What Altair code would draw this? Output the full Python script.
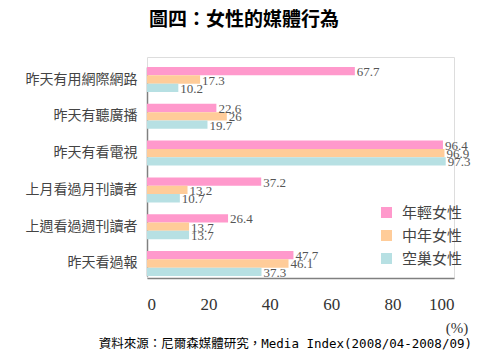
import altair as alt
import pandas as pd

categories = ["昨天有用網際網路", "昨天有聽廣播", "昨天有看電視", "上月看過月刊讀者", "上週看過週刊讀者", "昨天看過報"]
series = ["年輕女性", "中年女性", "空巢女性"]
young = [67.7, 22.6, 96.4, 37.2, 26.4, 47.7]
middle = [17.3, 26, 96.9, 13.2, 13.7, 46.1]
empty_nest = [10.2, 19.7, 97.3, 10.7, 13.7, 37.3]
colors = ["#ff99cc", "#ffcc99", "#b7e0e3"]
x_ticks = [0, 20, 40, 60, 80, 100]

title_text = "圖四：女性的媒體行為"
unit_text = "(%)"
source_text = "資料來源：尼爾森媒體研究，Media Index(2008/04-2008/09)"

rows = []
for s, vals in zip(series, [young, middle, empty_nest]):
    for c, v in zip(categories, vals):
        rows.append({"cat": c, "series": s, "value": v, "label": f"{v:g}"})
df = pd.DataFrame(rows)

W, H = 307, 221

y_enc = alt.Y("cat:N", sort=categories,
              scale=alt.Scale(range=[10, 219], paddingInner=0.32, paddingOuter=0),
              axis=alt.Axis(title=None, ticks=False, labelPadding=10, labelFontSize=14,
                            labelFont="Noto Sans CJK TC", labelColor="#444",
                            domainColor="#808080", domainWidth=1.5))
yoff = alt.YOffset("series:N", sort=series, scale=alt.Scale(paddingInner=0, paddingOuter=0))
x_enc = alt.X("value:Q", scale=alt.Scale(domain=[0, 100], nice=False),
              axis=alt.Axis(title=None, values=x_ticks, grid=False, ticks=False,
                            labelPadding=18, labelFontSize=17, labelFont="Liberation Serif",
                            labelColor="#333", domainColor="#808080", domainWidth=1.5))

bars = alt.Chart(df).mark_bar().encode(
    x=x_enc, y=y_enc, yOffset=yoff,
    color=alt.Color("series:N", sort=series,
                    scale=alt.Scale(domain=series, range=colors),
                    legend=alt.Legend(title=None, orient="none", legendX=232, legendY=148,
                                      symbolType="square", symbolSize=121,
                                      symbolStrokeWidth=0,
                                      labelFontSize=15, labelFont="Noto Sans CJK TC",
                                      labelColor="#444", labelOffset=8, rowPadding=7)),
)

labels = alt.Chart(df).mark_text(align="left", baseline="middle", dx=2, dy=1,
                                 font="Liberation Serif", fontSize=13, color="#555").encode(
    x="value:Q", y=alt.Y("cat:N", sort=categories), yOffset=alt.YOffset("series:N", sort=series),
    text="label:N",
)

ann_df = pd.DataFrame({"t": [title_text]})
title = alt.Chart(ann_df).mark_text(font="Noto Sans CJK TC", fontSize=19, fontWeight="bold",
                                    color="#000", align="center", baseline="middle").encode(
    x=alt.value(97), y=alt.value(-37), text="t:N")

unit = alt.Chart(pd.DataFrame({"t": [unit_text]})).mark_text(
    font="Liberation Serif", fontSize=15, color="#333", align="center", baseline="middle").encode(
    x=alt.value(310), y=alt.value(271), text="t:N")

source = alt.Chart(pd.DataFrame({"t": [source_text]})).mark_text(
    font="DejaVu Sans Mono, Noto Sans CJK TC", fontSize=12.5, color="#000",
    align="right", baseline="middle").encode(
    x=alt.value(325), y=alt.value(287), text="t:N")

chart = alt.layer(bars, labels, title, unit, source).properties(
    width=W, height=H,
    autosize=alt.AutoSizeParams(type="none"),
    padding={"left": 139, "top": 49, "right": 38, "bottom": 78},
).configure_view(stroke=None).configure(background="white")

chart.save("out.html", embed_options={"renderer": "svg", "actions": False})
